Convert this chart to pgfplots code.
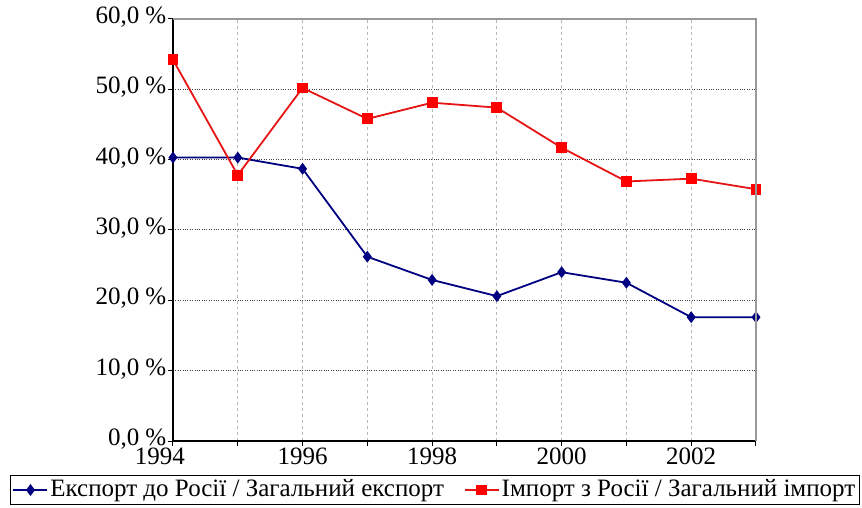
\documentclass[border=0pt]{standalone}
\usepackage{pgfplots}
\pgfplotsset{compat=1.18}
\usepackage{fontspec}
\setmainfont{Liberation Serif}
\definecolor{navyb}{RGB}{0,0,128}
\definecolor{redl}{RGB}{255,0,0}
\definecolor{redline}{RGB}{230,20,20}
\begin{document}
\fontsize{25bp}{29bp}\selectfont
\begin{tikzpicture}
\useasboundingbox (-173bp,-67bp) rectangle (689bp,441bp);
\begin{axis}[
  at={(0,0)}, anchor=south west,
  scale only axis, width=583bp, height=422bp,
  xmin=1994, xmax=2003, ymin=0, ymax=60,
  axis x line*=bottom, axis y line*=left,
  axis line style={black, line width=1.2bp, -},
  xtick={1994,...,2003},
  xticklabels={\hspace*{-26bp}1994,,1996,,1998,,2000,,2002,},
  ytick={0,10,...,60},
  tick align=outside, major tick length=5bp,
  tick style={black, line width=1bp},
  /pgf/number format/assume math mode=true,
  yticklabel={\pgfmathprintnumber[fixed,fixed zerofill,precision=1,use comma]{\tick}~\%},
  ticklabel style={font=\fontsize{25bp}{29bp}\selectfont, inner sep=1.5bp},
  yticklabel style={yshift=2bp},
  xticklabel style={yshift=-0.5bp},
  xmajorgrids, ymajorgrids,
  x grid style={gray!55, dashed, line width=0.8bp},
  y grid style={black!75, dotted, line width=1bp},
  legend columns=2,
  legend style={at={(axis description cs:-0.2796,-0.0806)}, anchor=north west,
    draw=black, line width=1.2bp, inner sep=2bp,
    font=\fontsize{25bp}{29bp}\selectfont,
    /tikz/every even column/.append style={column sep=18bp}},
  legend image code/.code={\draw[mark repeat=2,mark phase=2,#1] plot coordinates {(0bp,0bp) (17bp,0bp) (34bp,0bp)};},
  after end axis/.code={\draw[gray!80, line width=1.5bp] (rel axis cs:0,1) -- (rel axis cs:1,1) -- (rel axis cs:1,0);},
]
\addplot[color=navyb, line width=1.8bp, mark=diamond*, mark size=4.5bp, mark options={solid}]
  coordinates {(1994,40.3) (1995,40.3) (1996,38.7) (1997,26.2) (1998,22.9) (1999,20.6) (2000,24.0) (2001,22.5) (2002,17.6) (2003,17.6)};
\addlegendentry{Експорт до Росії / Загальний експорт}
\addplot[color=redline, line width=1.8bp, mark=square*, mark size=4.5bp, mark options={solid, fill=redl, draw=redl}]
  coordinates {(1994,54.2) (1995,37.8) (1996,50.2) (1997,45.8) (1998,48.1) (1999,47.4) (2000,41.7) (2001,36.9) (2002,37.3) (2003,35.8)};
\addlegendentry{Імпорт з Росії / Загальний імпорт}
\end{axis}
\end{tikzpicture}
\end{document}
